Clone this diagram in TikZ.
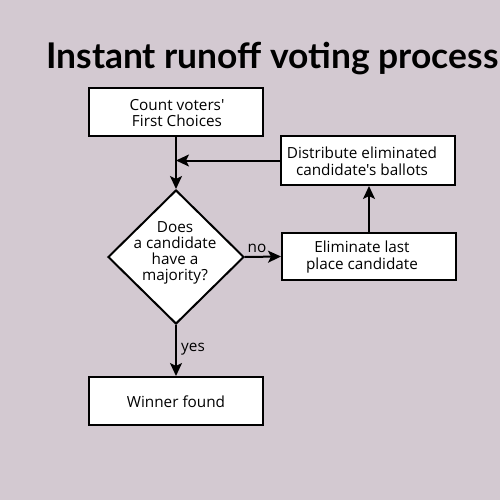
\documentclass[tikz,border=0pt]{standalone}
\usepackage{fontspec}
\setmainfont{Open Sans}[Ligatures=TeXOff]
\newfontfamily\titlefont{Lato}
\usetikzlibrary{arrows.meta,shapes.geometric}
\definecolor{bgcol}{RGB}{211,201,209}
\tikzset{
  box/.style={draw=black, fill=white, line width=2pt, minimum width=174pt, minimum height=48pt, inner sep=0pt},
  txt/.style={align=center, font=\fontsize{15.3pt}{16.8pt}\selectfont, inner sep=0pt},
  arr/.style={line width=2pt, -{Stealth[length=13pt,width=12pt,inset=3pt]}},
  lbl/.style={font=\fontsize{15.3pt}{16pt}\selectfont, inner sep=0pt}
}
\begin{document}
\begin{tikzpicture}[x=1pt,y=-1pt]
\fill[bgcol] (0,0) rectangle (500,500);
\useasboundingbox (0,0) rectangle (500,500);
\node[anchor=base west, inner sep=0pt, font=\titlefont\bfseries\fontsize{35.4pt}{38pt}\selectfont] (title) at (46,69) {Instant runoff voting process};
\node[box] (count) at (176,112) {};
\node[txt] (countt) at (177,113) {Count voters'\\ First Choices};
\node[box, minimum height=49pt] (dist) at (368,160.5) {};
\node[txt] (distt) at (362,161) {Distribute eliminated\\ candidate's ballots};
\node[box, minimum height=47pt] (elim) at (369,256.5) {};
\node[txt] (elimt) at (362,257) {Eliminate last\\ place candidate};
\node[box] (win) at (176,401) {};
\node[txt] (wint) at (176,402) {Winner found};
\node[diamond, draw=black, fill=white, line width=2pt, minimum width=136pt, minimum height=134pt, inner sep=0pt] (dec) at (176,257) {};
\node[txt, font=\fontsize{15.3pt}{15.8pt}\selectfont] (dect) at (175,253) {Does\\ a candidate\\ have a\\ majority?};
\draw[arr] (count.south) -- (dec.north);
\draw[arr] (dist.west) -- (dist.west -| count.south);
\draw[arr] (dec.east) -- (elim.west);
\draw[arr] (elim.north) -- (elim.north |- dist.south);
\draw[arr] (dec.south) -- (win.north);
\node[lbl] (no) at (257,248) {no};
\node[lbl] (yes) at (193,349) {yes};
\end{tikzpicture}
\end{document}
